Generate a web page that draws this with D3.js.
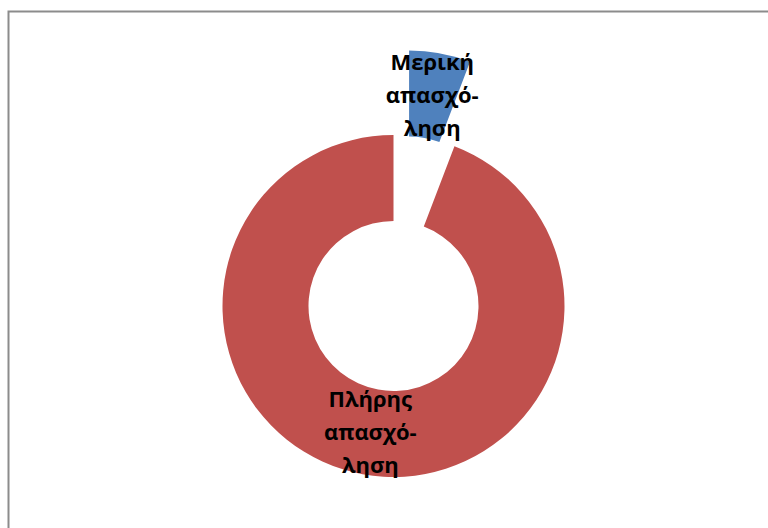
<!DOCTYPE html>
<html>
<head>
<meta charset="utf-8">
<script src="https://cdn.jsdelivr.net/npm/d3@7"></script>
<style>
  body { margin: 0; background: #fff; }
  svg { display: block; }
  .lbl { font-family: "Open Sans", "Noto Sans", sans-serif; font-weight: 700; font-size: 22px; fill: #000; }
</style>
</head>
<body>
<div id="chart"></div>
<script>
var w = 768,
    h = 528;

// data
var categories = ["Μερική απασχόληση", "Πλήρης απασχόληση"];
var values = [5.8, 94.2];
var labelLines = [["Μερική", "απασχό-", "ληση"], ["Πλήρης", "απασχό-", "ληση"]];
var colors = ["#4F81BD", "#C0504D"];
var exploded = [true, false];

var cx = 393.5, cy = 306,
    rOuter = 171, rInner = 85,
    explode = 86;

var svg = d3.select("#chart").append("svg")
    .attr("width", w)
    .attr("height", h);

// chart border
svg.append("rect")
    .attr("x", 8.5)
    .attr("y", 11.5)
    .attr("width", w + 10)
    .attr("height", h + 10)
    .attr("fill", "none")
    .attr("stroke", "#8c8c8c")
    .attr("stroke-width", 2);

var pie = d3.pie().sort(null)
    .value(function(d) { return d; });

var arc = d3.arc()
    .innerRadius(rInner)
    .outerRadius(rOuter);

var arcs = pie(values).map(function(d, i) {
  var mid = (d.startAngle + d.endAngle) / 2;
  var off = exploded[i] ? explode : 0;
  d.dx = off * Math.sin(mid);
  d.dy = -off * Math.cos(mid);
  d.i = i;
  return d;
});

var g = svg.append("g")
    .attr("transform", "translate(" + cx + "," + cy + ")");

var slice = g.selectAll("g.slice")
    .data(arcs)
  .enter().append("g")
    .attr("class", "slice")
    .attr("transform", function(d) { return "translate(" + d.dx + "," + d.dy + ")"; });

slice.append("path")
    .attr("d", arc)
    .attr("fill", function(d) { return colors[d.i]; });

var lineH = 33;
slice.append("text")
    .attr("class", "lbl")
    .attr("text-anchor", "middle")
    .attr("transform", function(d) { return "translate(" + arc.centroid(d) + ")"; })
    .each(function(d) {
      var t = d3.select(this);
      var lines = labelLines[d.i];
      lines.forEach(function(s, k) {
        t.append("tspan")
          .attr("x", 0)
          .attr("y", (k - (lines.length - 1) / 2) * lineH)
          .attr("dy", "0.35em")
          .text(s);
      });
    });
</script>
</body>
</html>
